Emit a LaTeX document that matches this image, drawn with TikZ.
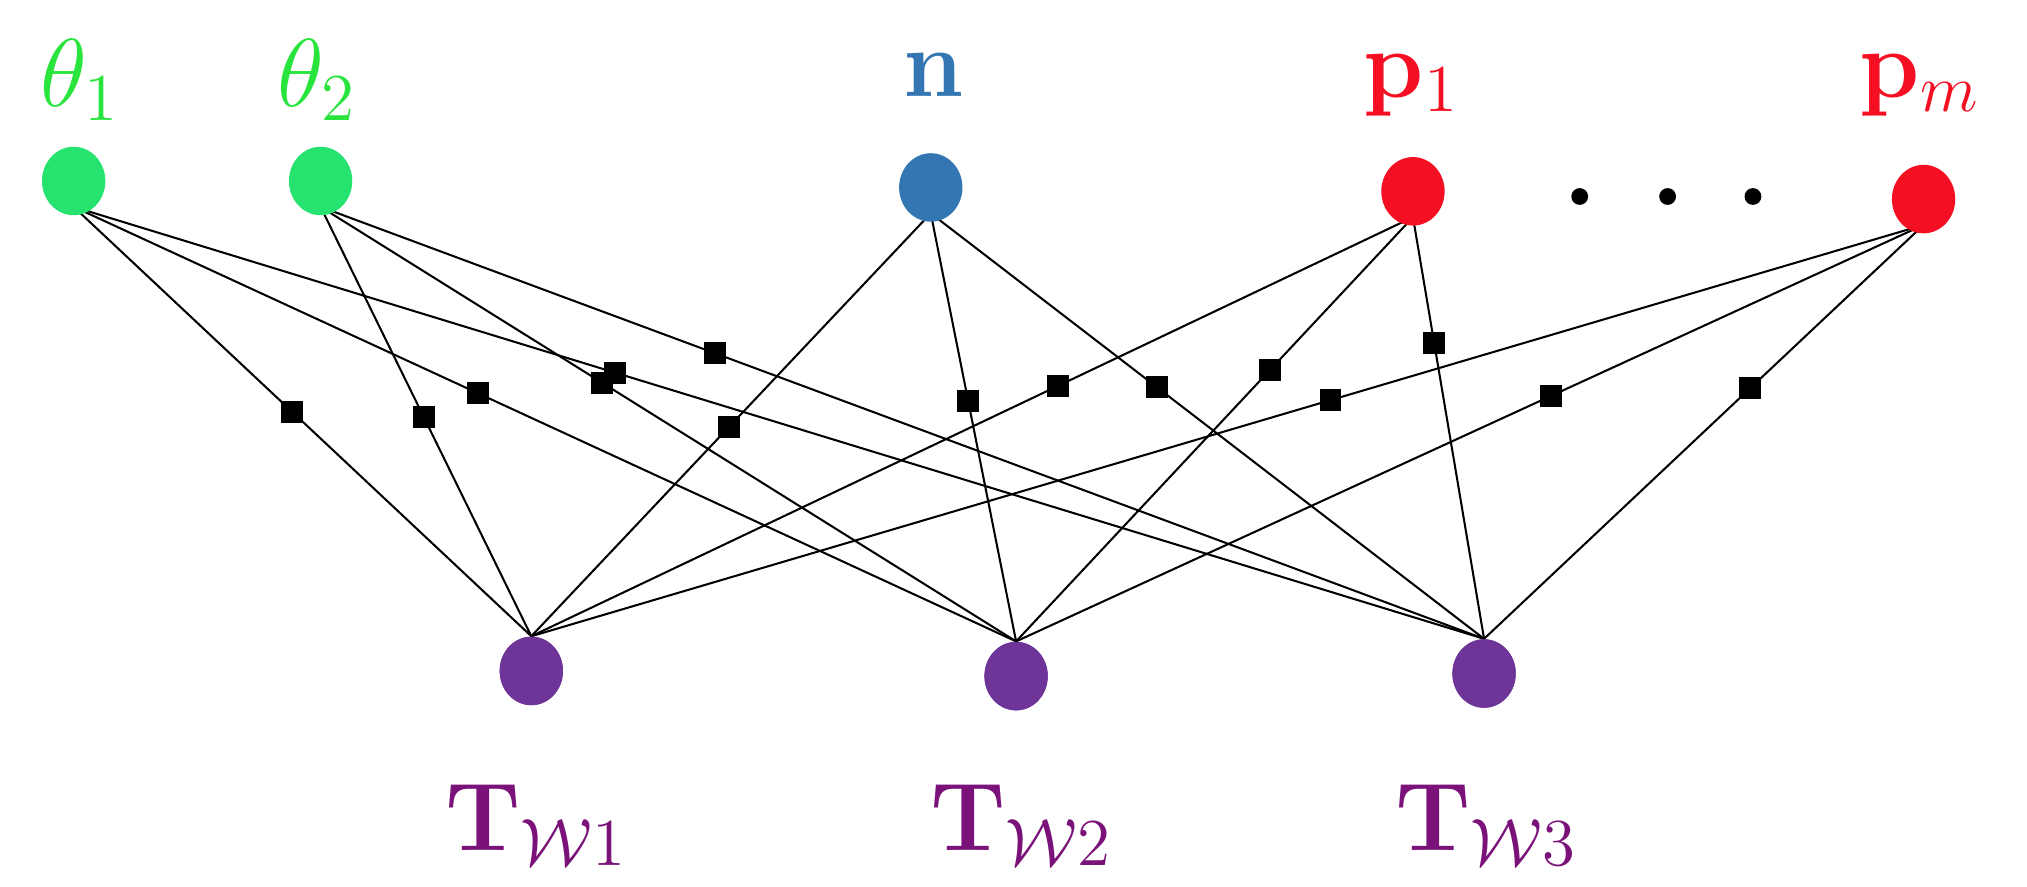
\documentclass[tikz,border=0pt]{standalone}
\usepackage{amsmath}
\usetikzlibrary{shapes.geometric}
\begin{document}
\definecolor{cg}{RGB}{38,226,110}
\definecolor{lg}{RGB}{40,228,60}
\definecolor{cb}{RGB}{52,118,178}
\definecolor{cr}{RGB}{245,15,35}
\definecolor{cp}{RGB}{110,52,152}
\definecolor{lp}{RGB}{122,18,122}
\begin{tikzpicture}[x=0.02cm,y=-0.02cm,
  var/.style={ellipse,minimum width=0.98cm,minimum height=1.06cm,inner sep=0pt,draw=none,fill=#1},
  fac/.style={rectangle,fill=black,minimum size=0.34cm,inner sep=0pt},
  edge/.style={line width=0.9pt},
  lab/.style={font=\huge,scale=2.05,transform shape,inner sep=0pt}]
\useasboundingbox (0,0) rectangle (1568,686);
\coordinate (t1) at (57,140);
\coordinate (t2) at (248,140);
\coordinate (n) at (720,145);
\coordinate (p1) at (1093,148);
\coordinate (pm) at (1488,154);
\node[var=cp] (w1) at (411,519) {};
\node[var=cp] (w2) at (786,523) {};
\node[var=cp] (w3) at (1148,521) {};
\foreach \a/\b/\p in {t1/w1/0.477,t1/w2/0.429,t1/w3/0.384,
  t2/w1/0.489,t2/w2/0.405,t2/w3/0.339,
  n/w1/0.506,n/w2/0.439,n/w3/0.409,
  p1/w1/0.403,p1/w2/0.360,p1/w3/0.298,
  pm/w1/0.426,pm/w2/0.411,pm/w3/0.395}
  \draw[edge] ([yshift=-0.4cm]\a) -- node[pos=\p,fac] (f-\a-\b) {} (\b.north);
\node[var=cg] (T1) at (t1) {};
\node[var=cg] (T2) at (t2) {};
\node[var=cb] (N) at (n) {};
\node[var=cr] (P1) at (p1) {};
\node[var=cr] (PM) at (pm) {};
\node[var=cp] at (w1) {};
\node[var=cp] at (w2) {};
\node[var=cp] at (w3) {};
\foreach \x [count=\i] in {1222,1290,1356} \node[circle,fill=black,minimum size=0.26cm,inner sep=0pt] (d\i) at (\x,152) {};
\node[lab,text=lg] (lt1) at (62,62) {$\theta_1$};
\node[lab,text=lg] (lt2) at (245,62) {$\theta_2$};
\node[lab,text=cb] (ln) at (722,58) {$\mathbf{n}$};
\node[lab,text=cr] (lp1) at (1092,66) {$\mathbf{p}_1$};
\node[lab,text=cr] (lpm) at (1485,66) {$\mathbf{p}_m$};
\node[lab,text=lp] (lw1) at (415,638) {$\mathbf{T}_{\mathcal{W}1}$};
\node[lab,text=lp] (lw2) at (790,638) {$\mathbf{T}_{\mathcal{W}2}$};
\node[lab,text=lp] (lw3) at (1150,638) {$\mathbf{T}_{\mathcal{W}3}$};
\end{tikzpicture}
\end{document}
